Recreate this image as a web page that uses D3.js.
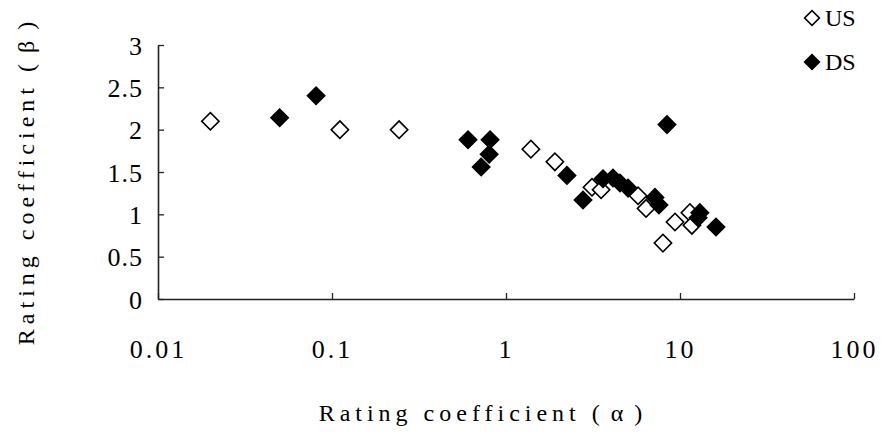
<!DOCTYPE html>
<html>
<head>
<meta charset="utf-8">
<script src="https://cdn.jsdelivr.net/npm/d3@7"></script>
<style>
  body { margin: 0; background: #fff; }
  svg { display: block; }
</style>
</head>
<body>
<div id="chart"></div>
<script>
// DATA (alpha, beta)
const usAlpha = [0.02, 0.111, 0.243, 1.39, 1.91, 3.12, 3.52, 5.74, 6.38, 9.36, 11.4, 11.7, 7.98];
const usBeta  = [2.10, 2.00, 2.00, 1.77, 1.62, 1.32, 1.29, 1.22, 1.07, 0.91, 1.02, 0.87, 0.66];

const dsAlpha = [0.050, 0.081, 0.605, 0.81, 0.80, 0.72, 2.24, 2.77, 3.61, 4.12, 4.52, 5.03, 7.18, 7.57, 8.42, 13.0, 12.7, 16.1];
const dsBeta  = [2.14, 2.40, 1.88, 1.88, 1.71, 1.56, 1.46, 1.17, 1.42, 1.43, 1.37, 1.31, 1.20, 1.11, 2.06, 1.02, 0.96, 0.85];

const xTicks = [0.01, 0.1, 1, 10, 100];
const xTickLabels = ["0.01", "0.1", "1", "10", "100"];
const yTicks = [0, 0.5, 1, 1.5, 2, 2.5, 3];
const yTickLabels = ["0", "0.5", "1", "1.5", "2", "2.5", "3"];

const seriesNames = ["US", "DS"];

const width = 895;
const height = 433;
const margin = {top: 45, right: 41, bottom: 134, left: 158};

const serif = "'Liberation Serif', 'DejaVu Serif', serif";

const svg = d3.select("#chart")
  .append("svg")
  .attr("width", width)
  .attr("height", height);

// SCALES
const xScale = d3.scaleLog()
  .domain([0.01, 100])
  .range([margin.left, width - margin.right]);

const yScale = d3.scaleLinear()
  .domain([0, 3])
  .range([height - margin.bottom, margin.top]);

// AXES
const xAxis = d3.axisBottom(xScale)
  .tickValues(xTicks)
  .tickSizeInner(-6)
  .tickSizeOuter(0)
  .tickFormat((d, i) => xTickLabels[i]);

const yAxis = d3.axisLeft(yScale)
  .tickValues(yTicks)
  .tickSizeInner(-6)
  .tickSizeOuter(0)
  .tickFormat((d, i) => yTickLabels[i]);

const xAxisGroup = svg.append("g")
  .attr("transform", `translate(0,${height - margin.bottom})`)
  .call(xAxis);

const yAxisGroup = svg.append("g")
  .attr("transform", `translate(${margin.left},0)`)
  .call(yAxis);

[xAxisGroup, yAxisGroup].forEach(g => {
  g.attr("font-family", serif).attr("font-size", 26);
  g.select(".domain").attr("stroke", "#222").attr("stroke-width", 1.6);
  g.selectAll(".tick line").attr("stroke", "#222").attr("stroke-width", 1.3);
  g.selectAll(".tick text").attr("fill", "#000");
});

xAxisGroup.selectAll(".tick text")
  .attr("y", 59)
  .attr("dy", 0)
  .attr("letter-spacing", 3);

yAxisGroup.selectAll(".tick text")
  .attr("x", -15)
  .attr("dy", "0.35em")
  .attr("letter-spacing", 1);

// AXIS TITLES
const xTitle = svg.append("text")
  .attr("x", 486)
  .attr("y", 421)
  .attr("text-anchor", "middle")
  .attr("font-family", serif)
  .attr("font-size", 24);
xTitle.append("tspan").attr("letter-spacing", 5).text("Rating coefficient ");
xTitle.append("tspan").attr("letter-spacing", 11).text("(α)");

const yTitle = svg.append("text")
  .attr("transform", `translate(34,178) rotate(-90)`)
  .attr("text-anchor", "middle")
  .attr("font-family", serif)
  .attr("font-size", 24);
yTitle.append("tspan").attr("letter-spacing", 5).text("Rating coefficient ");
yTitle.append("tspan").attr("letter-spacing", 11).text("(β)");

// MARKS
const diamond = d3.symbol().type(d3.symbolSquare).size(150);

const usData = usAlpha.map((a, i) => ({a: a, b: usBeta[i]}));
const dsData = dsAlpha.map((a, i) => ({a: a, b: dsBeta[i]}));

svg.append("g")
  .selectAll("path")
  .data(usData)
  .join("path")
  .attr("d", diamond)
  .attr("transform", d => `translate(${xScale(d.a)},${yScale(d.b)}) rotate(45)`)
  .attr("fill", "#fff")
  .attr("stroke", "#000")
  .attr("stroke-width", 1.6);

svg.append("g")
  .selectAll("path")
  .data(dsData)
  .join("path")
  .attr("d", diamond)
  .attr("transform", d => `translate(${xScale(d.a)},${yScale(d.b)}) rotate(45)`)
  .attr("fill", "#000")
  .attr("stroke", "#000")
  .attr("stroke-width", 1.6);

// LEGEND
const legend = svg.append("g")
  .selectAll("g")
  .data(seriesNames)
  .join("g")
  .attr("transform", (d, i) => `translate(812,${18 + i * 44})`);

legend.append("path")
  .attr("d", d3.symbol().type(d3.symbolSquare).size(110))
  .attr("transform", "rotate(45)")
  .attr("fill", (d, i) => i === 0 ? "#fff" : "#000")
  .attr("stroke", "#000")
  .attr("stroke-width", 1.6);

legend.append("text")
  .attr("x", 13)
  .attr("dy", "0.35em")
  .attr("font-family", serif)
  .attr("font-size", 24)
  .text(d => d);
</script>
</body>
</html>
